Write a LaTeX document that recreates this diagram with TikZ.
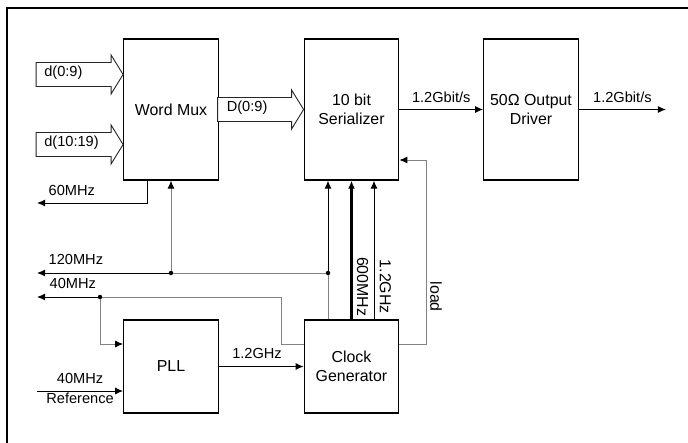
\documentclass[tikz,border=0pt]{standalone}
\usepackage{fontspec}
\setmainfont{Liberation Sans}
\usetikzlibrary{arrows.meta, positioning, calc}
\definecolor{wiregray}{RGB}{130,130,130}

\begin{document}
\begin{tikzpicture}[x=1pt, y=-1pt,
  block/.style={draw, line width=1.3pt, minimum width=94.5pt, align=center, inner sep=0pt,
    font=\fontsize{15.9}{18.5}\selectfont},
  lbl/.style={font=\fontsize{14.6}{17}\selectfont, inner sep=1.5pt},
  vlbl/.style={font=\fontsize{15.9}{18}\selectfont, inner sep=1.5pt, rotate=-90},
  tip/.style={-{Latex[length=8pt, width=7pt, color=black]}},
  wire/.style={line width=1pt, tip},
  gwire/.style={wiregray, line width=0.9pt},
  bus/.style={draw=black!85, line width=0.9pt, fill=white},
  dot/.style={circle, fill=black, inner sep=0pt, minimum size=4.5pt}]
  \useasboundingbox (0,0) rectangle (688,442);

  % Rahmen
  \draw[line width=2.2pt] (7,450) -- (7,8) -- (700,8);

  % Bloecke
  \node[block, minimum height=141pt] (mux) at (171,109.5) {Word Mux};
  \node[block, minimum height=141pt] (ser) at (351.5,109.5) {10 bit\\Serializer};
  \node[block, minimum height=141pt] (drv) at (531,109.5) {50Ω Output\\Driver};
  \node[block, minimum height=93pt] (pll) at (171,366.5) {PLL};
  \node[block, minimum height=93pt] (clk) at (351.5,366.5) {Clock\\Generator};

  % Busse
  \draw[bus] ($(mux.west)+(0,-35)$) coordinate (b1) -- ++(-12,-19.5) -- ++(0,7.5) -- ++(-75,0)
    -- ++(0,24) -- ++(75,0) -- ++(0,7.5) -- cycle;
  \node[lbl, anchor=west, inner sep=0pt] at ($(b1)+(-79,-2)$) {d(0:9)};
  \draw[bus] ($(mux.west)+(0,35)$) coordinate (b2) -- ++(-12,-19.5) -- ++(0,7.5) -- ++(-75,0)
    -- ++(0,24) -- ++(75,0) -- ++(0,7.5) -- cycle;
  \node[lbl, anchor=west, inner sep=0pt] at ($(b2)+(-79,-2)$) {d(10:19)};
  \draw[bus] (ser.west) coordinate (b3) -- ++(-12,-19.5) -- ++(0,7.5) -- ++(-74,0)
    -- ++(0,24) -- ++(74,0) -- ++(0,7.5) -- cycle;
  \node[lbl, anchor=west, inner sep=0pt] at ($(b3)+(-77,-2)$) {D(0:9)};

  % Datenpfad
  \draw[wire] (ser.east) -- node[lbl, above=5pt] {1.2Gbit/s} (drv.west);
  \coordinate (out) at ($(drv.east)+(87,0)$);
  \draw[wire] (drv.east) -- node[lbl, above=5pt] {1.2Gbit/s} (out);

  % Takte vom Clock Generator
  \coordinate (c120) at ($(clk.north)+(-23.5,0)$);
  \coordinate (c12) at ($(clk.north)+(22.5,0)$);
  \node[dot] (jb) at (c120 |- 0,273) {};
  \node[dot] (ja) at (mux.south |- jb) {};
  \node[dot] (jc) at (100,297) {};
  \coordinate (o60) at (37,203);
  \coordinate (o120) at (37,273);
  \coordinate (o40) at (37,297);
  \coordinate (ref) at (37,391);

  \draw[gwire] (c120) -- (jb);
  \draw[wire] (jb) -- (ser.south -| jb);
  \draw[gwire] (jb) -- (ja);
  \draw[gwire, tip] (ja) -- (mux.south);
  \draw[wire] (ja) -- (o120);
  \node[lbl, anchor=base west] at ($(o120)+(10,-9)$) {120MHz};
  \draw[wire, line width=2.2pt] (clk.north) -- (ser.south);
  \draw[wire] (c12) -- (ser.south -| c12);
  \node[vlbl] at (362.5,286.7) {600MHz};
  \node[vlbl] at (385.3,286.7) {1.2GHz};

  % 60MHz
  \draw[wire] ($(mux.south)+(-24,0)$) |- (o60);
  \node[lbl, anchor=base west] at ($(o60)+(10,-8)$) {60MHz};

  % load
  \draw[gwire, tip] ($(clk.east)+(0,-22.5)$) -| (426,160) -- ($(ser.east)+(0,50.5)$);
  \node[vlbl] at (436,296.7) {load};

  % 40MHz
  \draw[gwire] ($(clk.west)+(0,-22.5)$) -| (281,297) -- (jc);
  \draw[wire] (jc) -- (o40);
  \node[lbl, anchor=base west] at ($(o40)+(11,-9)$) {40MHz};
  \draw[gwire, tip] (jc) |- ($(pll.west)+(0,-22.5)$);

  % PLL
  \draw[wire] (ref) -- node[lbl, above=5.5pt] {40MHz} node[lbl, below, inner sep=1pt] {Reference}
    ($(pll.west)+(0,24.5)$);
  \draw[wire] (pll.east) -- node[lbl, above=5.5pt, pos=0.45] {1.2GHz} (clk.west);
\end{tikzpicture}
\end{document}
